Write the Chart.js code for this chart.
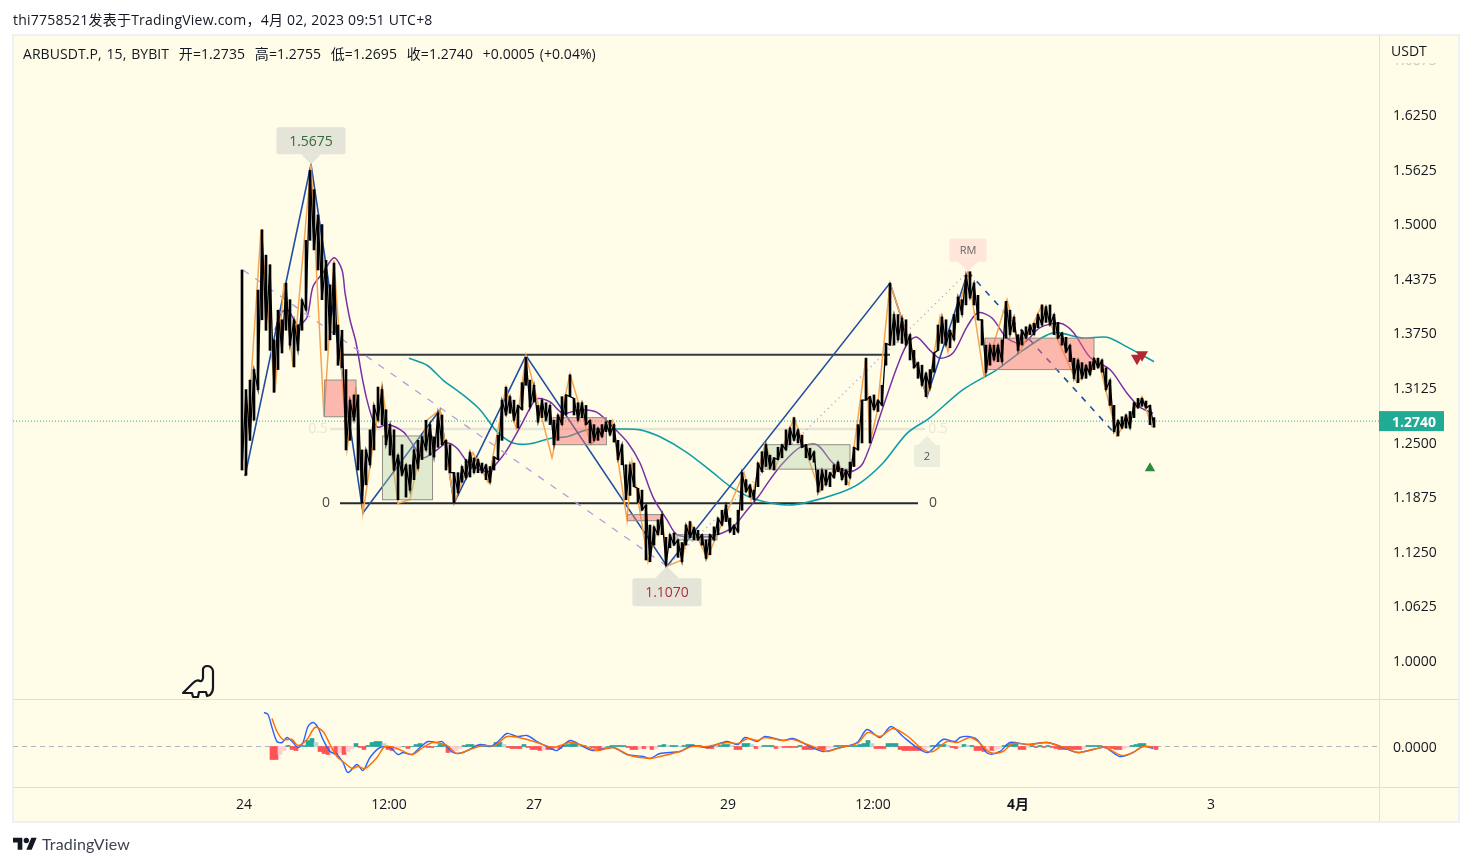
<!DOCTYPE html>
<html>
<head>
<meta charset="utf-8">
<title>ARBUSDT.P</title>
<script src="https://cdn.jsdelivr.net/npm/chart.js@4/dist/chart.umd.min.js"></script>
<style>
    body { margin: 0; background: #fff; font-family: "Open Sans", "Noto Sans CJK SC", sans-serif; color: #131722; }
    #panel { position: absolute; left: 12px; top: 34px; width: 1444px; height: 785px; background: #fffce8; border: 2px solid #eef0f4; }
    canvas { position: absolute; left: 0; top: 0; }
    .txt { position: absolute; white-space: pre; font-size: 14px; }
    #published { left: 13px; top: 9px; letter-spacing: 0.23px; }
    #legend { left: 23px; top: 43px; letter-spacing: 0.06px; word-spacing: 1.2px; }
    #brand { left: 42px; top: 834px; font-size: 16px; font-family: Lato, sans-serif; color: #3f4350; letter-spacing: 0.15px; }
    svg { position: absolute; }
</style>
</head>
<body>
<div id="panel"></div>
<canvas id="myChart" width="1472" height="866"></canvas>
<div class="txt" id="published">thi7758521发表于TradingView.com，4月 02, 2023 09:51 UTC+8</div>
<div class="txt" id="legend">ARBUSDT.P, 15, BYBIT  开=1.2735  高=1.2755  低=1.2695  收=1.2740  +0.0005 (+0.04%)</div>
<svg style="left:180px;top:662px" width="38" height="38" viewBox="0 0 38 38">
    <path d="M3 31 L13 21 Q17 17 20 19 Q22 20 23 16 L23 7 Q24 4 27 4 Q32 4 33 9 L33 26 Q33 30 30 33 L27 34 L26 30 L19 30 L18 35 L13 35 L12 31 Z" fill="none" stroke="#131722" stroke-width="2.2" stroke-linejoin="round"/>
</svg>
<svg style="left:13px;top:835px" width="24" height="19" viewBox="0 0 36 28">
    <path d="M14 22H7V11H0V4h14v18zM28 22h-8l7.5-18h8L28 22z" fill="#131722"/>
    <circle cx="20" cy="8" r="4" fill="#131722"/>
</svg>
<div class="txt" id="brand">TradingView</div>
<script>
    // x values are bar numbers counted from the 24th
    const dayTicks = [0, 145, 290, 484, 629, 774, 967];
    const dayLabels = ['24', '12:00', '27', '29', '12:00', '4月', '3'];
    const priceTicks = [1.0, 1.0625, 1.125, 1.1875, 1.25, 1.3125, 1.375, 1.4375, 1.5, 1.5625, 1.625, 1.6875];

    const lastPrice = 1.2740;
    const candleFirstBar = -2;
    const candleStep = 4;
    const candleHigh = [
        1.447, 1.310, 1.321, 1.333, 1.424, 1.493, 1.464, 1.453, 1.367, 1.401, 1.390, 1.432, 1.413, 1.390, 1.384, 1.413,
        1.481, 1.561, 1.539, 1.510, 1.499, 1.458, 1.430, 1.455, 1.384, 1.378, 1.333, 1.298, 1.304, 1.304, 1.241, 1.241,
        1.264, 1.292, 1.313, 1.310, 1.287, 1.270, 1.264, 1.235, 1.247, 1.224, 1.224, 1.241, 1.252, 1.256, 1.275, 1.270,
        1.256, 1.283, 1.281, 1.252, 1.247, 1.215, 1.215, 1.222, 1.230, 1.238, 1.232, 1.230, 1.226, 1.224, 1.222, 1.233,
        1.258, 1.298, 1.313, 1.302, 1.298, 1.292, 1.318, 1.347, 1.321, 1.315, 1.292, 1.298, 1.295, 1.292, 1.275, 1.281,
        1.302, 1.304, 1.327, 1.300, 1.295, 1.295, 1.292, 1.275, 1.270, 1.266, 1.270, 1.273, 1.275, 1.270, 1.252, 1.247,
        1.224, 1.224, 1.226, 1.197, 1.195, 1.178, 1.155, 1.153, 1.161, 1.167, 1.141, 1.144, 1.146, 1.138, 1.135, 1.155,
        1.159, 1.152, 1.149, 1.144, 1.138, 1.144, 1.153, 1.163, 1.172, 1.178, 1.163, 1.155, 1.172, 1.215, 1.207, 1.201,
        1.195, 1.226, 1.239, 1.247, 1.235, 1.232, 1.244, 1.247, 1.264, 1.266, 1.278, 1.264, 1.258, 1.247, 1.243, 1.239,
        1.218, 1.218, 1.218, 1.215, 1.224, 1.227, 1.220, 1.218, 1.227, 1.244, 1.270, 1.298, 1.346, 1.302, 1.304, 1.298,
        1.315, 1.363, 1.432, 1.396, 1.396, 1.392, 1.390, 1.373, 1.355, 1.341, 1.338, 1.329, 1.333, 1.352, 1.384, 1.393,
        1.390, 1.378, 1.396, 1.416, 1.413, 1.441, 1.445, 1.432, 1.418, 1.390, 1.361, 1.361, 1.361, 1.361, 1.367, 1.411,
        1.401, 1.393, 1.373, 1.378, 1.382, 1.384, 1.386, 1.396, 1.407, 1.405, 1.407, 1.396, 1.387, 1.375, 1.370, 1.361,
        1.346, 1.344, 1.341, 1.338, 1.342, 1.346, 1.346, 1.344, 1.335, 1.321, 1.292, 1.275, 1.279, 1.281, 1.285, 1.295,
        1.300, 1.300, 1.297, 1.292, 1.278
    ];
    const candleLow = [
        1.218, 1.212, 1.252, 1.275, 1.310, 1.390, 1.378, 1.355, 1.307, 1.333, 1.352, 1.378, 1.361, 1.336, 1.355, 1.378,
        1.401, 1.481, 1.470, 1.447, 1.413, 1.355, 1.367, 1.373, 1.338, 1.335, 1.241, 1.252, 1.275, 1.218, 1.180, 1.201,
        1.224, 1.241, 1.275, 1.270, 1.247, 1.235, 1.218, 1.184, 1.212, 1.187, 1.195, 1.207, 1.220, 1.230, 1.241, 1.235,
        1.233, 1.244, 1.247, 1.218, 1.215, 1.180, 1.192, 1.204, 1.209, 1.210, 1.215, 1.215, 1.215, 1.207, 1.204, 1.218,
        1.230, 1.252, 1.281, 1.283, 1.275, 1.266, 1.287, 1.315, 1.290, 1.296, 1.273, 1.278, 1.275, 1.270, 1.247, 1.252,
        1.270, 1.281, 1.302, 1.281, 1.275, 1.278, 1.270, 1.249, 1.252, 1.252, 1.256, 1.262, 1.258, 1.250, 1.230, 1.224,
        1.184, 1.189, 1.199, 1.181, 1.172, 1.115, 1.113, 1.132, 1.144, 1.144, 1.109, 1.129, 1.132, 1.118, 1.113, 1.132,
        1.141, 1.138, 1.138, 1.132, 1.117, 1.121, 1.138, 1.144, 1.155, 1.159, 1.147, 1.144, 1.147, 1.172, 1.193, 1.187,
        1.184, 1.199, 1.216, 1.222, 1.220, 1.218, 1.230, 1.232, 1.241, 1.247, 1.252, 1.249, 1.244, 1.232, 1.230, 1.227,
        1.193, 1.195, 1.201, 1.199, 1.209, 1.216, 1.207, 1.201, 1.209, 1.222, 1.241, 1.249, 1.298, 1.249, 1.287, 1.285,
        1.292, 1.338, 1.361, 1.361, 1.367, 1.363, 1.361, 1.344, 1.335, 1.323, 1.315, 1.302, 1.312, 1.330, 1.355, 1.363,
        1.361, 1.358, 1.367, 1.387, 1.396, 1.407, 1.415, 1.407, 1.390, 1.361, 1.330, 1.338, 1.344, 1.342, 1.342, 1.369,
        1.373, 1.376, 1.355, 1.361, 1.369, 1.373, 1.373, 1.381, 1.384, 1.387, 1.384, 1.373, 1.369, 1.361, 1.353, 1.342,
        1.323, 1.318, 1.323, 1.323, 1.327, 1.333, 1.335, 1.330, 1.310, 1.292, 1.262, 1.257, 1.266, 1.266, 1.266, 1.278,
        1.289, 1.291, 1.289, 1.270, 1.267
    ];

    const swingBars = [1, 17, 31, 40, 49, 67, 80, 90, 103, 112, 119, 138, 154, 166, 183, 196, 210, 229, 244, 262, 272, 282, 308, 326, 347, 368, 383, 388, 404, 418, 423, 438, 446, 463, 500, 507, 521, 531, 550, 576, 594, 605, 622, 626, 633, 646, 683, 696, 704, 724, 740, 763, 776, 798, 833, 854, 873, 898, 908];
    const swingPrices = [1.218, 1.493, 1.307, 1.432, 1.336, 1.568, 1.279, 1.458, 1.241, 1.313, 1.169, 1.315, 1.180, 1.184, 1.275, 1.287, 1.180, 1.238, 1.204, 1.313, 1.266, 1.349, 1.232, 1.328, 1.247, 1.275, 1.161, 1.227, 1.113, 1.167, 1.108, 1.115, 1.159, 1.117, 1.215, 1.184, 1.248, 1.220, 1.278, 1.193, 1.227, 1.201, 1.347, 1.249, 1.284, 1.432, 1.302, 1.393, 1.353, 1.445, 1.325, 1.413, 1.353, 1.407, 1.318, 1.346, 1.257, 1.302, 1.267];

    const waveBars = [1, 67, 119, 196, 210, 282, 423, 646, 683, 724];
    const wavePrices = [1.211, 1.568, 1.169, 1.287, 1.180, 1.349, 1.108, 1.432, 1.302, 1.445];
    const lastWaveBars = [724, 873];
    const lastWavePrices = [1.445, 1.257];
    const fallBars = [-1, 423];
    const fallPrices = [1.447, 1.108];
    const riseBars = [423, 724];
    const risePrices = [1.108, 1.445];

    const fastMaBars = [31, 38, 44, 54, 63, 69, 79, 90, 98, 101, 106, 112, 118, 123, 129, 134, 143, 159, 169, 179, 193, 203, 213, 224, 243, 253, 263, 276, 289, 294, 306, 319, 336, 353, 369, 384, 396, 409, 423, 433, 453, 473, 489, 503, 514, 526, 539, 556, 573, 589, 606, 619, 639, 653, 664, 673, 686, 696, 709, 723, 734, 748, 763, 779, 796, 816, 829, 846, 866, 883, 896, 909];
    const fastMaPrices = [1.378, 1.399, 1.401, 1.384, 1.393, 1.428, 1.444, 1.461, 1.447, 1.421, 1.390, 1.364, 1.325, 1.298, 1.275, 1.267, 1.270, 1.262, 1.247, 1.232, 1.241, 1.249, 1.243, 1.227, 1.216, 1.226, 1.241, 1.267, 1.295, 1.300, 1.296, 1.283, 1.287, 1.284, 1.267, 1.249, 1.226, 1.187, 1.161, 1.144, 1.141, 1.144, 1.153, 1.172, 1.187, 1.207, 1.226, 1.244, 1.247, 1.226, 1.216, 1.226, 1.290, 1.336, 1.364, 1.370, 1.355, 1.346, 1.352, 1.382, 1.398, 1.392, 1.369, 1.363, 1.381, 1.386, 1.376, 1.347, 1.333, 1.306, 1.290, 1.283];
    const slowMaBars = [165, 183, 199, 219, 236, 253, 269, 286, 309, 323, 343, 376, 396, 416, 443, 469, 489, 513, 543, 563, 596, 616, 639, 663, 686, 719, 753, 779, 809, 839, 863, 883, 910];
    const slowMaPrices = [1.346, 1.338, 1.321, 1.304, 1.287, 1.262, 1.249, 1.248, 1.255, 1.256, 1.264, 1.265, 1.264, 1.256, 1.238, 1.215, 1.197, 1.184, 1.178, 1.181, 1.192, 1.203, 1.226, 1.260, 1.278, 1.310, 1.333, 1.355, 1.375, 1.369, 1.370, 1.359, 1.342];

    // fib levels: 1, 0.5, 0
    const levelOneBars = [96, 646];
    const levelOnePrices = [1.350, 1.350];
    const levelHalfBars = [86, 681];
    const levelHalfPrices = [1.265, 1.265];
    const levelZeroBars = [96, 674];
    const levelZeroPrices = [1.180, 1.180];

    const sellBars = [893, 898];
    const sellPrices = [1.346, 1.350];
    const buyBars = [906];
    const buyPrices = [1.220];

    const boxStart = [80.5, 138.5, 309, 383.5, 433, 521, 741];
    const boxEnd = [112, 188.5, 362.5, 418, 473, 606, 850];
    const boxTop = [1.321, 1.257, 1.278, 1.167, 1.144, 1.247, 1.369];
    const boxBottom = [1.279, 1.184, 1.247, 1.160, 1.138, 1.219, 1.333];
    const boxBull = [false, true, false, false, true, true, false];

    const tagTexts = ['1.5675', '1.1070', 'RM', '2'];
    const tagBars = [67, 423, 724, 683];
    const tagPrices = [1.568, 1.108, 1.445, 1.257];

    const levelTexts = ['0.5', '0.5', '0', '0'];
    const levelTextBars = [74, 694, 82, 689];
    const levelTextPrices = [1.265, 1.265, 1.180, 1.180];

    // MACD values in thousandths
    const macdBars = [20, 24, 28, 33, 38, 43, 49, 54, 59, 64, 69, 74, 79, 86, 93, 99, 104, 113, 119, 126, 136, 146, 154, 159, 168, 176, 184, 193, 198, 209, 219, 236, 246, 254, 263, 273, 283, 293, 303, 313, 326, 339, 349, 369, 383, 399, 406, 416, 436, 448, 463, 483, 494, 501, 513, 521, 539, 549, 566, 579, 593, 613, 623, 636, 647, 659, 673, 684, 699, 711, 716, 724, 733, 744, 756, 766, 783, 803, 819, 833, 849, 861, 876, 889, 899, 909];
    const macdLine = [34, 32, 19, 5, 4, 9, 4, -1, 4, 20, 24, 19, 7, -5, -8, -16, -26, -18, -24, -11, -1, -1, -8, -6, -8, -1, 5, 4, 5, -6, -6, 2, 0, 5, 13, 10, 11, 5, 0, -4, 6, 0, -4, -1, -8, -10, -12, -7, -5, 1, -1, 5, 2, 9, 5, 10, 6, 8, 0, -5, -2, 4, 17, 9, 20, 10, -1, -6, 7, 5, 9, 10, 7, -7, -5, 4, 2, 4, -1, -6, -3, -1, -10, -6, 0, -2];
    const signalBars = [28, 33, 39, 48, 54, 63, 71, 79, 86, 93, 99, 108, 114, 121, 133, 141, 153, 168, 179, 189, 203, 213, 226, 239, 251, 263, 279, 293, 309, 326, 339, 353, 369, 386, 406, 416, 436, 448, 463, 483, 494, 504, 513, 521, 539, 549, 566, 583, 596, 613, 624, 636, 649, 664, 679, 689, 703, 713, 726, 734, 746, 759, 769, 786, 803, 823, 834, 849, 861, 878, 889, 899, 909];
    const signalLine = [28, 15, 7, 7, 1, 7, 19, 15, 2, -10, -15, -22, -20, -22, -11, 0, -2, -8, -1, 4, 1, -7, -3, 1, 1, 10, 8, 4, -1, 4, 1, -4, -1, -9, -12, -10, -5, 0, 0, 4, 3, 8, 6, 9, 6, 7, 1, -5, -1, 3, 14, 10, 18, 10, -3, -5, 5, 4, 9, 5, -6, -5, 3, 2, 4, -2, -6, -3, -1, -9, -6, 0, -1];
    const histFirstBar = 28;
    const histStep = 4;
    const histValues = [
        -13, -13, -8, -4, 1, -3, -4, -1, 1, 6, 8, 4, -5, -7, -8, -7, -8, -6, -8, -5, -2, 3, -1, -3, 1, 4, 5, 5, 3, -3, -4, -3,
        -1, 0, -2, 0, 2, 3, 1, -1, -1, 0, 2, 2, -6, -5, -4, -2, 1, 2, 2, 1, 1, 2, 1, 1, 4, 4, 2, -1, -2, -2, -2, 2,
        -1, -3, -3, -4, -3, -3, -3, -2, -2, 1, 2, 3, 3, 1, 1, 0, -1, -2, -3, -2, 0, 1, 1, 1, 1, -1, -3, -3, -2, -2, -1, -3,
        -2, 1, 2, 1, 1, 1, 0, 1, 2, 2, 1, 1, -1, -2, -2, -1, 1, 2, 2, 1, -3, -3, 3, 3, 2, -2, -1, 1, 1, 1, -2, -1,
        -1, -1, -1, -1, 1, -3, -3, -3, -2, -3, -3, -2, -1, 1, 1, 1, 1, 1, 1, 2, 3, 6, 3, -2, -2, -2, 3, 3, 3, -3, -4, -4,
        -4, -4, -4, -3, -1, 1, 1, 2, 2, 1, -1, -2, -1, 2, 1, 1, -4, -4, -5, -4, -4, -3, -2, 1, 2, 3, 3, -3, -3, -1, 1, -1,
        1, -1, 1, -1, -2, -3, -3, -3, -3, -3, -3, -2, 1, 1, 1, 1, -1, -1, -2, -3, -3, -2, -1, 1, 2, 3, 3, 1, -1, -3
    ];

    const panelBg = '#fffce8';
    const lineColor = '#e3e1cc';
    const axisFont = '"Open Sans", "Noto Sans CJK SC", sans-serif';

    function points(xs, ys) {
        return xs.map((x, i) => ({x: x, y: ys[i]}));
    }

    function lineSet(label, xs, ys, color, width, extra) {
        return Object.assign({
            label: label,
            data: points(xs, ys),
            borderColor: color,
            borderWidth: width,
            pointRadius: 0,
            fill: false,
            yAxisID: 'y'
        }, extra);
    }

    // wicks as thin bars, joined by a line that steps from one bar's low to the next bar's high
    let candlePoints = candleHigh.map((high, i) => ({x: candleFirstBar + i * candleStep, y: [candleLow[i], high]}));
    let candleJoin = candleHigh.map((high, i) => ({x: candleFirstBar + i * candleStep, y: i % 2 ? high : candleLow[i]}));
    let histPoints = histValues.map((v, i) => ({x: histFirstBar + i * histStep, y: v}));

    function histColor(ctx) {
        let v = histValues[ctx.dataIndex];
        let prev = ctx.dataIndex > 0 ? histValues[ctx.dataIndex - 1] : v;
        if (v >= 0) return v >= prev ? '#26a69a' : '#b2dfdb';
        return v <= prev ? '#ff5252' : '#ffcdd2';
    }

    function drawBoxes(chart) {
        const {ctx, scales} = chart;
        ctx.save();
        boxStart.forEach((start, i) => {
            let left = scales.x.getPixelForValue(start);
            let right = scales.x.getPixelForValue(boxEnd[i]);
            let top = scales.y.getPixelForValue(boxTop[i]);
            let bottom = scales.y.getPixelForValue(boxBottom[i]);
            ctx.fillStyle = boxBull[i] ? 'rgba(170,205,165,0.38)' : 'rgba(250,110,110,0.48)';
            ctx.strokeStyle = '#8f8f86';
            ctx.lineWidth = 1;
            ctx.fillRect(left, top, right - left, bottom - top);
            ctx.strokeRect(left, top, right - left, bottom - top);
        });
        ctx.restore();
    }

    function drawTag(ctx, text, tipX, tipY, w, h, gap, up, bg, color, font) {
        let top = up ? tipY - gap - h : tipY + gap;
        ctx.fillStyle = bg;
        ctx.beginPath();
        ctx.roundRect(tipX - w / 2, top, w, h, 2);
        ctx.fill();
        ctx.beginPath();
        ctx.moveTo(tipX, tipY);
        ctx.lineTo(tipX - gap, up ? tipY - gap : tipY + gap);
        ctx.lineTo(tipX + gap, up ? tipY - gap : tipY + gap);
        ctx.closePath();
        ctx.fill();
        ctx.fillStyle = color;
        ctx.font = font;
        ctx.textAlign = 'center';
        ctx.textBaseline = 'middle';
        ctx.fillText(text, tipX, top + h / 2 + 1);
    }

    const overlay = {
        id: 'overlay',
        beforeDatasetDraw(chart, args) {
            if (chart.data.datasets[args.index].label === 'candles') drawBoxes(chart);
        },
        afterDraw(chart) {
            const {ctx, scales, chartArea} = chart;
            ctx.save();

            // panel separators
            ctx.strokeStyle = lineColor;
            ctx.lineWidth = 1;
            ctx.beginPath();
            ctx.moveTo(chartArea.right + 0.5, chartArea.top);
            ctx.lineTo(chartArea.right + 0.5, 821);
            ctx.moveTo(14, scales.y.bottom + 0.5);
            ctx.lineTo(1458, scales.y.bottom + 0.5);
            ctx.moveTo(14, chartArea.bottom + 0.5);
            ctx.lineTo(1458, chartArea.bottom + 0.5);
            ctx.stroke();

            // level captions
            ctx.font = '14px ' + axisFont;
            ctx.textAlign = 'center';
            ctx.textBaseline = 'middle';
            levelTexts.forEach((text, i) => {
                ctx.fillStyle = text === '0' ? '#4a4a4a' : '#e8e6d6';
                ctx.fillText(text, scales.x.getPixelForValue(levelTextBars[i]), scales.y.getPixelForValue(levelTextPrices[i]));
            });

            // pivot tags
            const tagStyles = [
                [69, 27, 10, true, '#e4e4d8', '#2f6b3c', '14px ' + axisFont],
                [69, 28, 12, false, '#e4e4d8', '#b2303c', '14px ' + axisFont],
                [37, 23, 10, true, '#ffe5da', '#666', '11px ' + axisFont],
                [26, 22, 9, false, '#eceedd', '#555', '11px ' + axisFont]
            ];
            tagTexts.forEach((text, i) => {
                let s = tagStyles[i];
                drawTag(ctx, text, scales.x.getPixelForValue(tagBars[i]), scales.y.getPixelForValue(tagPrices[i]), s[0], s[1], s[2], s[3], s[4], s[5], s[6]);
            });

            // hide the top tick under the currency label
            ctx.fillStyle = panelBg;
            ctx.fillRect(chartArea.right + 1, 36, 78, 27);
            ctx.fillStyle = '#131722';
            ctx.font = '14px ' + axisFont;
            ctx.textAlign = 'left';
            ctx.fillText('USDT', 1391, 52);

            // last price tag
            let lastY = scales.y.getPixelForValue(lastPrice);
            ctx.fillStyle = '#22ab94';
            ctx.fillRect(chartArea.right, lastY - 10, 65, 20);
            ctx.fillStyle = '#fff';
            ctx.font = 'bold 14px ' + axisFont;
            ctx.fillText(lastPrice.toFixed(4), 1392, lastY + 1.5);
            ctx.restore();
        }
    };

    const myChart = document.getElementById('myChart');

    new Chart(myChart, {
        type: 'line',
        plugins: [overlay],
        data: {
            datasets: [
                {
                    type: 'line',
                    label: 'candle join',
                    data: candleJoin,
                    yAxisID: 'y',
                    order: 1,
                    borderColor: '#000',
                    borderWidth: 1.3,
                    pointRadius: 0
                },
                {
                    type: 'bar',
                    label: 'candles',
                    data: candlePoints,
                    yAxisID: 'y',
                    order: 1,
                    grouped: false,
                    barThickness: 2,
                    backgroundColor: '#000'
                },
                lineSet('swings', swingBars, swingPrices, '#f7a44f', 1.5, {order: 2}),
                lineSet('waves', waveBars, wavePrices, '#1f4ea3', 1.6, {order: 3}),
                lineSet('last wave', lastWaveBars, lastWavePrices, '#1f4ea3', 1.6, {order: 3, borderDash: [6, 7]}),
                lineSet('fall', fallBars, fallPrices, '#b39ddb', 1.3, {order: 4, borderDash: [7, 8]}),
                lineSet('rise', riseBars, risePrices, '#b39ddb', 1.5, {order: 4, borderDash: [1, 4]}),
                lineSet('fast ma', fastMaBars, fastMaPrices, '#7b2fa6', 1.5, {order: 5, tension: 0.3}),
                lineSet('slow ma', slowMaBars, slowMaPrices, '#0e9ea8', 1.6, {order: 5, tension: 0.3}),
                lineSet('level 1', levelOneBars, levelOnePrices, '#363a45', 2, {order: 6}),
                lineSet('level 0', levelZeroBars, levelZeroPrices, '#26282f', 2, {order: 6}),
                lineSet('level 0.5', levelHalfBars, levelHalfPrices, '#e7e5d4', 2.5, {order: 7}),
                lineSet('last price', [-231, 1135], [lastPrice, lastPrice], '#26a69a', 1, {order: 8, borderDash: [1, 2]}),
                lineSet('sell', sellBars, sellPrices, '#b22833', 0, {order: 0, showLine: false, pointStyle: 'triangle', rotation: 180, pointRadius: 7, pointBackgroundColor: '#b22833', pointBorderWidth: 0}),
                lineSet('buy', buyBars, buyPrices, '#2e8b3a', 0, {order: 0, showLine: false, pointStyle: 'triangle', pointRadius: 6, pointBackgroundColor: '#2e8b3a', pointBorderWidth: 0}),
                lineSet('macd', macdBars, macdLine, '#2962ff', 1.4, {order: 10, yAxisID: 'macd', tension: 0.3}),
                lineSet('signal', signalBars, signalLine, '#ff6d00', 1.4, {order: 9, yAxisID: 'macd', tension: 0.3}),
                lineSet('macd zero', [-231, 1135], [0, 0], '#b2b5be', 1, {order: 12, yAxisID: 'macd', borderDash: [5, 4]}),
                {
                    type: 'bar',
                    label: 'hist',
                    data: histPoints,
                    yAxisID: 'macd',
                    order: 11,
                    grouped: false,
                    barThickness: 4,
                    backgroundColor: histColor
                }
            ]
        },
        options: {
            responsive: false,
            animation: false,
            layout: {padding: {left: 13, right: 13, top: 35, bottom: 44}},
            plugins: {legend: {display: false}, tooltip: {enabled: false}},
            scales: {
                x: {
                    type: 'linear',
                    offset: false,
                    min: -231,
                    max: 1135,
                    grid: {display: false},
                    border: {display: false},
                    afterBuildTicks: scale => { scale.ticks = dayTicks.map(v => ({value: v})); },
                    afterFit: scale => { scale.height = 35; },
                    ticks: {
                        autoSkip: false,
                        maxRotation: 0,
                        padding: 2,
                        color: '#131722',
                        font: ctx => ({family: axisFont, size: 14, weight: ctx.tick && ctx.tick.value === 774 ? 'bold' : 'normal'}),
                        callback: value => dayLabels[dayTicks.indexOf(value)]
                    }
                },
                y: {
                    type: 'linear',
                    position: 'right',
                    stack: 'panes',
                    stackWeight: 664,
                    min: 0.9559,
                    max: 1.7160,
                    grid: {display: false},
                    border: {display: false},
                    afterBuildTicks: scale => { scale.ticks = priceTicks.map(v => ({value: v})); },
                    afterFit: scale => { scale.width = 80; },
                    ticks: {
                        padding: 6,
                        labelOffset: 1.5,
                        color: ctx => ctx.tick && ctx.tick.value > 1.65 ? '#c9c9c0' : '#131722',
                        font: {family: axisFont, size: 14},
                        callback: value => value.toFixed(4)
                    }
                },
                macd: {
                    type: 'linear',
                    position: 'right',
                    stack: 'panes',
                    stackWeight: 88,
                    min: -40.5,
                    max: 47.5,
                    grid: {display: false},
                    border: {display: false},
                    afterBuildTicks: scale => { scale.ticks = [{value: 0}]; },
                    afterFit: scale => { scale.width = 80; },
                    ticks: {
                        padding: 6,
                        labelOffset: 1.5,
                        color: '#131722',
                        font: {family: axisFont, size: 14},
                        callback: value => (value / 1000).toFixed(4)
                    }
                }
            }
        }
    });
</script>
</body>
</html>
